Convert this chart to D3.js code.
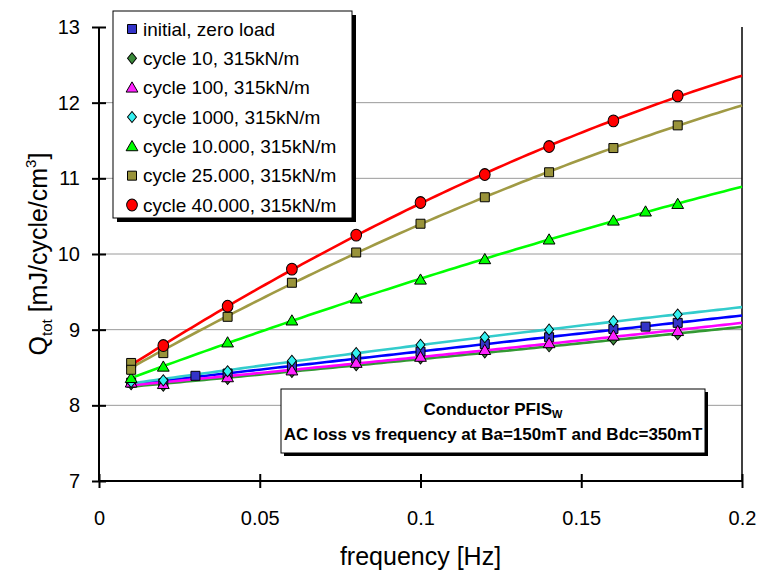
<!DOCTYPE html>
<html>
<head>
<meta charset="utf-8">
<script src="https://cdn.jsdelivr.net/npm/d3@7/dist/d3.min.js"></script>
<style>
  html, body { margin: 0; padding: 0; background: #fff; }
  svg { display: block; font-family: "Liberation Sans", Arial, sans-serif; }
</style>
</head>
<body>
<svg id="chart" width="762" height="576"></svg>
<script>
// AC loss measurements, conductor PFIS_W
const seriesNames = [
  "initial, zero load",
  "cycle 10, 315kN/m",
  "cycle 100, 315kN/m",
  "cycle 1000, 315kN/m",
  "cycle 10.000, 315kN/m",
  "cycle 25.000, 315kN/m",
  "cycle 40.000, 315kN/m"
];

const freqInitial = [0.01, 0.02, 0.03, 0.04, 0.06, 0.08, 0.1, 0.12, 0.14, 0.16, 0.17, 0.18];
const qInitial    = [8.30, 8.29, 8.39, 8.42, 8.52, 8.62, 8.71, 8.81, 8.90, 9.01, 9.04, 9.09];

const freqCycle10 = [0.01, 0.02, 0.04, 0.06, 0.08, 0.1, 0.12, 0.14, 0.16, 0.18];
const qCycle10    = [8.28, 8.26, 8.35, 8.44, 8.53, 8.62, 8.70, 8.78, 8.87, 8.94];

const freqCycle100 = [0.01, 0.02, 0.04, 0.06, 0.08, 0.1, 0.12, 0.14, 0.16, 0.18];
const qCycle100    = [8.30, 8.28, 8.37, 8.46, 8.56, 8.64, 8.73, 8.82, 8.92, 8.98];

const freqCycle1000 = [0.01, 0.02, 0.04, 0.06, 0.08, 0.1, 0.12, 0.14, 0.16, 0.18];
const qCycle1000    = [8.31, 8.33, 8.45, 8.59, 8.69, 8.80, 8.90, 9.00, 9.11, 9.20];

const freqCycle10k = [0.01, 0.02, 0.04, 0.06, 0.08, 0.1, 0.12, 0.14, 0.16, 0.17, 0.18];
const qCycle10k    = [8.36, 8.51, 8.83, 9.12, 9.41, 9.66, 9.93, 10.19, 10.44, 10.56, 10.66];

const freqCycle25k = [0.01, 0.01, 0.02, 0.04, 0.06, 0.08, 0.1, 0.12, 0.14, 0.16, 0.18];
const qCycle25k    = [8.56, 8.47, 8.69, 9.17, 9.62, 10.02, 10.40, 10.75, 11.08, 11.40, 11.70];

const freqCycle40k = [0.02, 0.04, 0.06, 0.08, 0.1, 0.12, 0.14, 0.16, 0.18];
const qCycle40k    = [8.79, 9.31, 9.80, 10.25, 10.68, 11.05, 11.42, 11.76, 12.09];

const xTicks = [0, 0.05, 0.1, 0.15, 0.2];
const xTickLabels = ["0", "0.05", "0.1", "0.15", "0.2"];
const yTicks = [7, 8, 9, 10, 11, 12, 13];
const yGrid = [8, 9, 10, 11, 12];

// Marker / line styling per series
const styles = [
  { shape: "square",   fill: "#3434C8", line: "#0000FF" },
  { shape: "diamond",  fill: "#3A8A3A", line: "#339933" },
  { shape: "triangle", fill: "#FF22FF", line: "#FF00FF" },
  { shape: "diamond",  fill: "#33F0F0", line: "#33CCCC" },
  { shape: "triangle", fill: "#00FF00", line: "#00FF00" },
  { shape: "square",   fill: "#99933A", line: "#A09A44" },
  { shape: "circle",   fill: "#FF0000", line: "#FF0000" }
];

const freqs = [freqInitial, freqCycle10, freqCycle100, freqCycle1000, freqCycle10k, freqCycle25k, freqCycle40k];
const values = [qInitial, qCycle10, qCycle100, qCycle1000, qCycle10k, qCycle25k, qCycle40k];

const series = seriesNames.map((name, i) => ({
  name,
  style: styles[i],
  points: freqs[i].map((f, j) => ({ f, q: values[i][j] }))
}));

const svg = d3.select("#chart");
const plot = { left: 99, right: 742, top: 27, bottom: 481 };

const x = d3.scaleLinear().domain([0, 0.2]).range([plot.left, plot.right]);
const y = d3.scaleLinear().domain([7, 13]).range([plot.bottom, plot.top]);

// Horizontal gridlines
svg.append("g")
  .selectAll("line")
  .data(yGrid)
  .join("line")
  .attr("x1", plot.left).attr("x2", plot.right)
  .attr("y1", d => y(d)).attr("y2", d => y(d))
  .attr("stroke", "#9a9a9a")
  .attr("stroke-width", 1);

// Right frame edge
svg.append("line")
  .attr("x1", plot.right).attr("x2", plot.right)
  .attr("y1", plot.top).attr("y2", plot.bottom)
  .attr("stroke", "#000").attr("stroke-width", 1.5);

// Second-order least-squares trendline through a series
function quadFit(pts) {
  const S = [0, 0, 0, 0, 0], T = [0, 0, 0];
  pts.forEach(p => {
    let xp = 1;
    for (let k = 0; k <= 4; k++) {
      S[k] += xp;
      if (k <= 2) T[k] += xp * p.q;
      xp *= p.f;
    }
  });
  const A = [
    [S[0], S[1], S[2], T[0]],
    [S[1], S[2], S[3], T[1]],
    [S[2], S[3], S[4], T[2]]
  ];
  for (let c = 0; c < 3; c++) {
    let piv = c;
    for (let r = c + 1; r < 3; r++) if (Math.abs(A[r][c]) > Math.abs(A[piv][c])) piv = r;
    [A[c], A[piv]] = [A[piv], A[c]];
    for (let r = 0; r < 3; r++) {
      if (r === c) continue;
      const m = A[r][c] / A[c][c];
      for (let k = c; k < 4; k++) A[r][k] -= m * A[c][k];
    }
  }
  const coef = [A[0][3] / A[0][0], A[1][3] / A[1][1], A[2][3] / A[2][2]];
  return f => coef[0] + coef[1] * f + coef[2] * f * f;
}

const fitDomain = d3.range(0, 101).map(i => 0.01 + (0.2 - 0.01) * i / 100);
const line = d3.line().x(d => x(d.f)).y(d => y(d.q));

svg.append("g")
  .selectAll("path")
  .data(series)
  .join("path")
  .attr("fill", "none")
  .attr("stroke", d => d.style.line)
  .attr("stroke-width", 2.6)
  .attr("d", d => {
    const fn = quadFit(d.points);
    return line(fitDomain.map(f => ({ f, q: fn(f) })));
  });

// Marker shapes
function markerPath(shape) {
  if (shape === "square") return d3.symbol(d3.symbolSquare, 81)();
  if (shape === "circle") return d3.symbol(d3.symbolCircle, 100)();
  if (shape === "triangle") return d3.symbol(d3.symbolTriangle, 60)();
  return d3.symbol(d3.symbolSquare, 56)();
}
function markerTransform(shape, px, py) {
  if (shape === "diamond") return `translate(${px},${py}) scale(0.85,1.05) rotate(45)`;
  if (shape === "triangle") return `translate(${px},${py + 1})`;
  if (shape === "circle") return `translate(${px},${py}) scale(0.95,1.05)`;
  return `translate(${px},${py})`;
}

series.forEach(s => {
  svg.append("g")
    .selectAll("path")
    .data(s.points)
    .join("path")
    .attr("d", markerPath(s.style.shape))
    .attr("transform", d => markerTransform(s.style.shape, x(d.f), y(d.q)))
    .attr("fill", s.style.fill)
    .attr("stroke", "#000")
    .attr("stroke-width", 1);
});

// Axes with crossing tick marks
const yAxis = svg.append("g")
  .attr("transform", `translate(${plot.left},0)`)
  .call(d3.axisLeft(y).tickValues(yTicks).tickSize(7).tickPadding(12).tickFormat(d3.format("d")));
yAxis.selectAll(".tick line").attr("x1", 7).attr("x2", -7).attr("stroke-width", 2);
yAxis.select(".domain").attr("stroke-width", 2).attr("d", `M0,${plot.top}V${plot.bottom}`);
yAxis.selectAll("text").attr("font-size", 20).attr("fill", "#000")
  .attr("font-family", "Liberation Sans, Arial, sans-serif");

const xAxis = svg.append("g")
  .attr("transform", `translate(0,${plot.bottom})`)
  .call(d3.axisBottom(x).tickValues(xTicks).tickSize(7).tickPadding(23)
    .tickFormat((d, i) => xTickLabels[i]));
xAxis.selectAll(".tick line").attr("y1", -7).attr("y2", 7).attr("stroke-width", 2);
xAxis.select(".domain").attr("stroke-width", 2).attr("d", `M${plot.left},0H${plot.right}`);
xAxis.selectAll("text").attr("font-size", 20).attr("fill", "#000")
  .attr("font-family", "Liberation Sans, Arial, sans-serif");

// Axis titles
svg.append("text")
  .attr("x", (plot.left + plot.right) / 2)
  .attr("y", 565)
  .attr("text-anchor", "middle")
  .attr("font-size", 25)
  .text("frequency [Hz]");

const yTitle = svg.append("text")
  .attr("transform", `translate(47,${(plot.top + plot.bottom) / 2}) rotate(-90)`)
  .attr("text-anchor", "middle")
  .attr("font-size", 25);
yTitle.append("tspan").text("Q");
yTitle.append("tspan").attr("font-size", 15).attr("dy", 5).text("tot");
yTitle.append("tspan").attr("dy", -5).text(" [mJ/cycle/cm");
yTitle.append("tspan").attr("font-size", 15).attr("dy", -11).text("3");
yTitle.append("tspan").attr("dy", 11).text("]");

// Legend
const legend = { x: 113, y: 11, w: 239, h: 207 };
svg.append("rect")
  .attr("x", legend.x + 4).attr("y", legend.y + 4)
  .attr("width", legend.w).attr("height", legend.h)
  .attr("fill", "#000");
svg.append("rect")
  .attr("x", legend.x).attr("y", legend.y)
  .attr("width", legend.w).attr("height", legend.h)
  .attr("fill", "#fff").attr("stroke", "#000").attr("stroke-width", 1);

const legendRow = d3.scaleLinear().domain([0, 6]).range([29, 205]);
const lg = svg.append("g")
  .selectAll("g")
  .data(series)
  .join("g")
  .attr("transform", (d, i) => `translate(0,${legendRow(i)})`);
lg.append("path")
  .attr("d", d => markerPath(d.style.shape))
  .attr("transform", d => markerTransform(d.style.shape, 132, 0))
  .attr("fill", d => d.style.fill)
  .attr("stroke", "#000").attr("stroke-width", 1);
lg.append("text")
  .attr("x", 143).attr("y", 0).attr("dy", "0.35em")
  .attr("font-size", 19)
  .text(d => d.name);

// Annotation box
const note = { x: 281, y: 389, w: 424, h: 64 };
svg.append("rect")
  .attr("x", note.x + 3).attr("y", note.y + 3)
  .attr("width", note.w).attr("height", note.h)
  .attr("fill", "#000");
svg.append("rect")
  .attr("x", note.x).attr("y", note.y)
  .attr("width", note.w).attr("height", note.h)
  .attr("fill", "#fff").attr("stroke", "#000").attr("stroke-width", 1);

const t1 = svg.append("text")
  .attr("x", note.x + note.w / 2).attr("y", note.y + 26)
  .attr("text-anchor", "middle")
  .attr("font-size", 17).attr("font-weight", "bold");
t1.append("tspan").text("Conductor PFIS");
t1.append("tspan").attr("font-size", 11).attr("dy", 3).text("W");

svg.append("text")
  .attr("x", note.x + note.w / 2).attr("y", note.y + 51)
  .attr("text-anchor", "middle")
  .attr("font-size", 17).attr("font-weight", "bold")
  .text("AC loss vs frequency at Ba=150mT and Bdc=350mT");
</script>
</body>
</html>
